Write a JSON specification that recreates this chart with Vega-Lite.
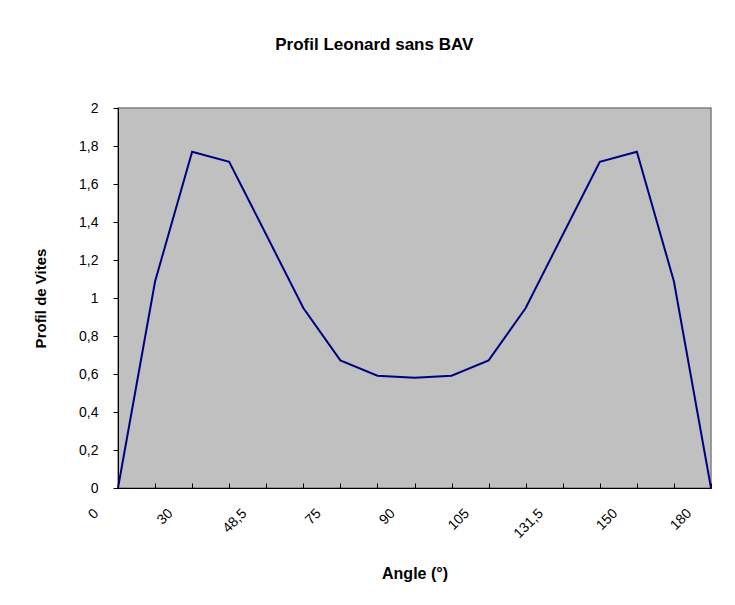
{
  "$schema": "https://vega.github.io/schema/vega-lite/v6.json",
  "autosize": "none",
  "width": 593,
  "height": 380,
  "padding": {"left": 118, "top": 108, "right": 24, "bottom": 117},
  "background": "white",
  "title": {
    "text": "Profil Leonard sans BAV",
    "anchor": "middle",
    "frame": "bounds",
    "font": "Liberation Sans",
    "fontSize": 17,
    "fontWeight": "bold",
    "color": "black",
    "offset": 47
  },
  "data": {
    "values": [
      {"angle": "0", "vitesse": 0},
      {"angle": "15", "vitesse": 1.087},
      {"angle": "30", "vitesse": 1.77},
      {"angle": "40", "vitesse": 1.717},
      {"angle": "48,5", "vitesse": 1.333},
      {"angle": "60", "vitesse": 0.947},
      {"angle": "75", "vitesse": 0.672},
      {"angle": "82,5", "vitesse": 0.591},
      {"angle": "90", "vitesse": 0.58},
      {"angle": "97,5", "vitesse": 0.591},
      {"angle": "105", "vitesse": 0.672},
      {"angle": "120", "vitesse": 0.947},
      {"angle": "131,5", "vitesse": 1.333},
      {"angle": "140", "vitesse": 1.717},
      {"angle": "150", "vitesse": 1.77},
      {"angle": "165", "vitesse": 1.087},
      {"angle": "180", "vitesse": 0}
    ]
  },
  "mark": {"type": "line", "color": "#000080", "strokeWidth": 2},
  "encoding": {
    "x": {
      "field": "angle",
      "type": "ordinal",
      "sort": null,
      "scale": {"type": "point", "padding": 0},
      "axis": {
        "title": "Angle (°)",
        "titleFont": "Liberation Sans",
        "titleFontSize": 16,
        "titleFontWeight": "bold",
        "titleColor": "black",
        "titlePadding": 25,
        "labelExpr": "indexof(['0','30','48,5','75','90','105','131,5','150','180'], datum.value) >= 0 ? datum.value : ''",
        "labelAngle": -45,
        "labelAlign": "right",
        "labelBaseline": "middle",
        "labelOffset": -22,
        "labelPadding": 28,
        "labelFont": "Liberation Sans",
        "labelFontSize": 14,
        "labelColor": "black",
        "labelOverlap": false,
        "tickSize": -5,
        "tickColor": "black",
        "domainColor": "black",
        "grid": false
      }
    },
    "y": {
      "field": "vitesse",
      "type": "quantitative",
      "scale": {"domain": [0, 2], "nice": false, "zero": true},
      "axis": {
        "title": "Profil de Vites",
        "titleFont": "Liberation Sans",
        "titleFontSize": 15,
        "titleFontWeight": "bold",
        "titleColor": "black",
        "titlePadding": 30,
        "values": [0, 0.2, 0.4, 0.6, 0.8, 1, 1.2, 1.4, 1.6, 1.8, 2],
        "labelExpr": "replace(format(datum.value, '.1~f'), '.', ',')",
        "labelFont": "Liberation Sans",
        "labelFontSize": 14,
        "labelColor": "black",
        "labelPadding": 15,
        "tickSize": 5,
        "tickColor": "black",
        "domainColor": "black",
        "grid": false
      }
    }
  },
  "config": {
    "view": {"fill": "#C0C0C0", "stroke": "#808080", "strokeWidth": 1.5}
  }
}
